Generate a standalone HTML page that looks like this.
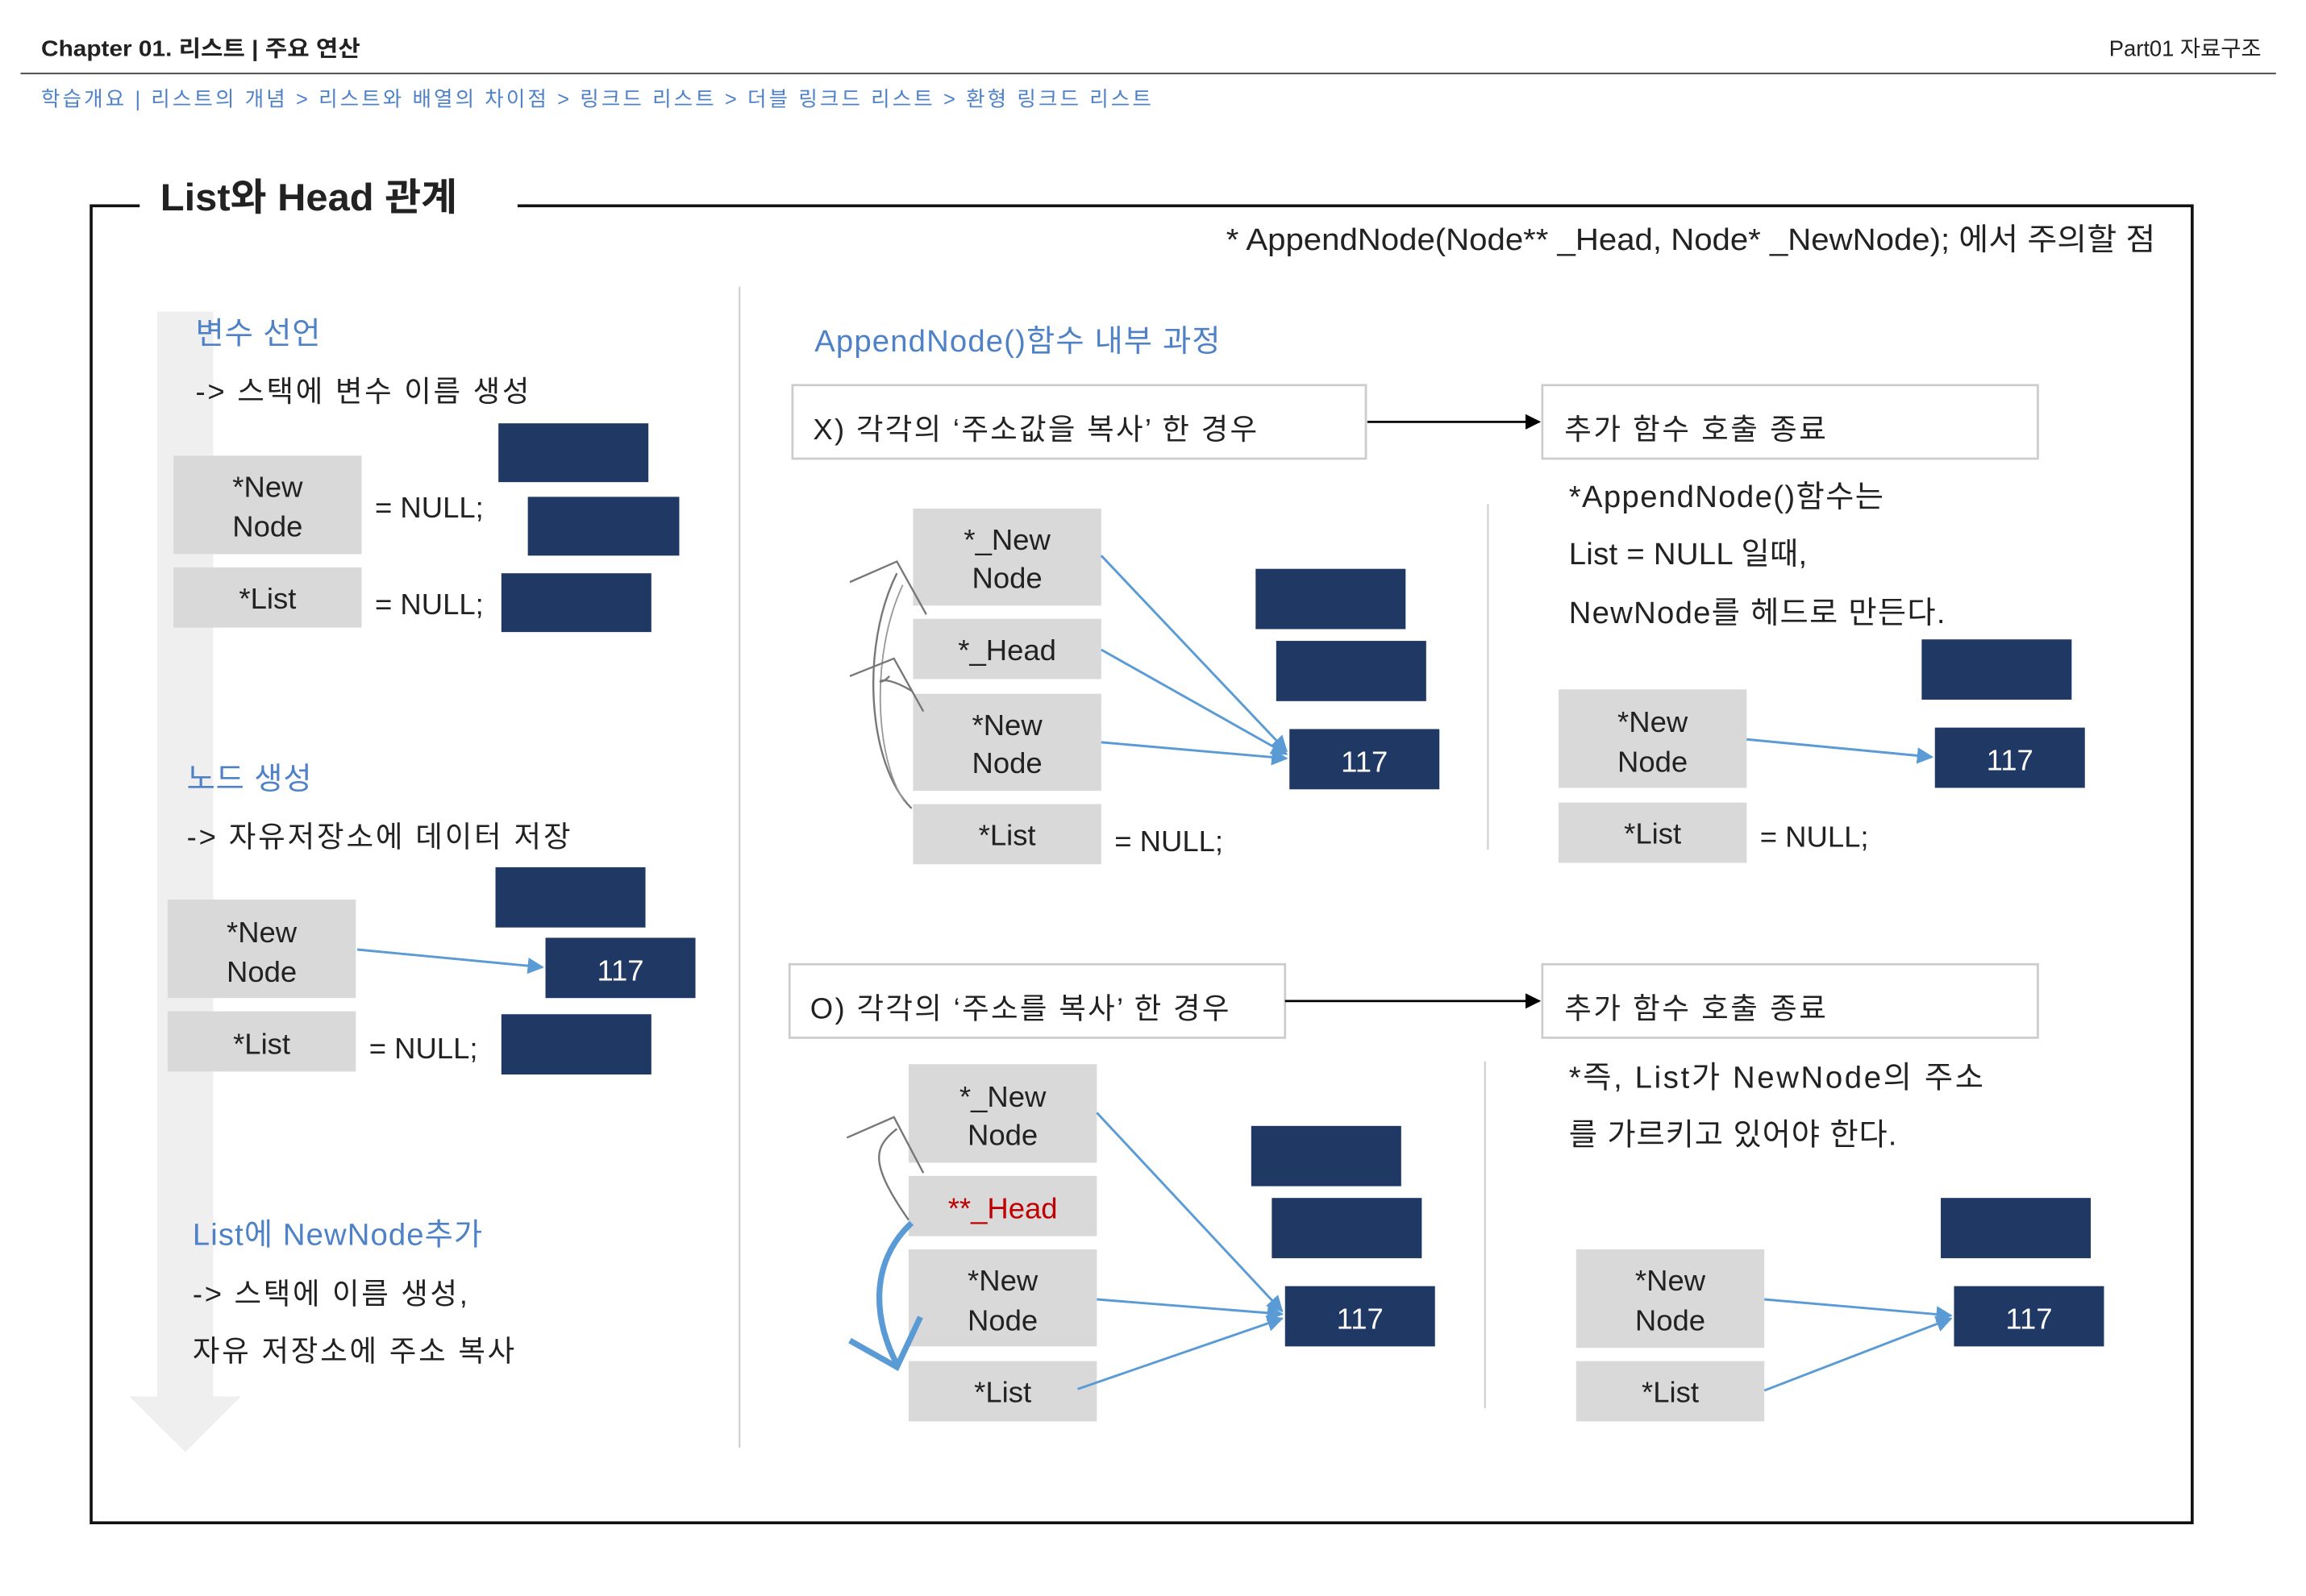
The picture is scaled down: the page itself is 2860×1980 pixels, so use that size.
<!DOCTYPE html>
<html><head><meta charset="utf-8">
<style>
html,body{margin:0;padding:0;background:#fff;}
svg{display:block;}
text{font-family:"Liberation Sans","Noto Sans CJK KR",sans-serif;fill:#222;}
text.b{fill:#4f81c7;}
.g{fill:#d9d9d9;}
.n{fill:#1f3864;}
text.w{fill:#fff;}
.bl{stroke:#5b9bd5;stroke-width:1.6;fill:none;}
</style></head><body>
<svg width="2860" height="1980" viewBox="0 0 1568.4 1085.8" xmlns="http://www.w3.org/2000/svg">
<defs>
<marker id="ab" viewBox="0 0 10 10" refX="9" refY="5" markerWidth="7" markerHeight="7" orient="auto"><path d="M0,0L10,5L0,10z" fill="#5b9bd5"/></marker>
<marker id="ak" viewBox="0 0 10 10" refX="9" refY="5" markerWidth="7" markerHeight="7" orient="auto"><path d="M0,0L10,5L0,10z" fill="#000"/></marker>
</defs>
<text x="28" y="38" font-size="15" font-weight="bold" textLength="217" lengthAdjust="spacingAndGlyphs">Chapter 01. 리스트 | 주요 연산</text>
<text x="1538" y="38" font-size="15" text-anchor="end">Part01 자료구조</text>
<line x1="14" y1="50" x2="1548" y2="50" stroke="#444" stroke-width="1"/>
<text x="28" y="72" font-size="14" class="b" textLength="755" lengthAdjust="spacing">학습개요 |  리스트의 개념 &gt; 리스트와 배열의 차이점 &gt; 링크드  리스트 &gt; 더블 링크드 리스트 &gt; 환형 링크드 리스트</text>
<path d="M95,140 H62 V1036 H1491 V140 H352" fill="none" stroke="#111" stroke-width="2"/>
<text x="109" y="143" font-size="26" font-weight="bold" fill="#111" textLength="202" lengthAdjust="spacingAndGlyphs">List와 Head 관계</text>
<text x="834" y="170" font-size="21" textLength="632" lengthAdjust="spacingAndGlyphs">* AppendNode(Node** _Head, Node* _NewNode); 에서 주의할 점</text>
<rect x="107" y="212" width="38" height="740" fill="#efefef"/>
<polygon points="88,950 164,950 126,988" fill="#efefef"/>
<line x1="503" y1="195" x2="503" y2="985" stroke="#d0d0d0" stroke-width="1.2"/>
<text x="133" y="234" font-size="21" class="b" textLength="85">변수 선언</text>
<text x="133" y="273" font-size="20" textLength="227">-&gt; 스택에 변수 이름 생성</text>
<rect x="118" y="310" width="128" height="67" class="g"/>
<text x="182" y="338" font-size="20" text-anchor="middle">*New</text>
<text x="182" y="365" font-size="20" text-anchor="middle">Node</text>
<rect x="118" y="386" width="128" height="41" class="g"/>
<text x="182" y="414" font-size="20" text-anchor="middle">*List</text>
<text x="255" y="352" font-size="20">= NULL;</text>
<text x="255" y="418" font-size="20">= NULL;</text>
<rect x="339" y="288" width="102" height="40" class="n"/>
<rect x="359" y="338" width="103" height="40" class="n"/>
<rect x="341" y="390" width="102" height="40" class="n"/>
<text x="127" y="537" font-size="21" class="b" textLength="85">노드 생성</text>
<text x="127" y="576" font-size="20" textLength="261">-&gt; 자유저장소에 데이터 저장</text>
<rect x="114" y="612" width="128" height="67" class="g"/>
<text x="178" y="641" font-size="20" text-anchor="middle">*New</text>
<text x="178" y="668" font-size="20" text-anchor="middle">Node</text>
<rect x="114" y="688" width="128" height="41" class="g"/>
<text x="178" y="717" font-size="20" text-anchor="middle">*List</text>
<text x="251" y="720" font-size="20">= NULL;</text>
<rect x="337" y="590" width="102" height="41" class="n"/>
<rect x="371" y="638" width="102" height="41" class="n"/>
<text x="422" y="667" font-size="20" text-anchor="middle" class="w">117</text>
<rect x="341" y="690" width="102" height="41" class="n"/>
<line x1="243" y1="646" x2="369" y2="658" class="bl" marker-end="url(#ab)"/>
<text x="131" y="847" font-size="21" class="b" textLength="197">List에 NewNode추가</text>
<text x="131" y="887" font-size="20" textLength="187">-&gt; 스택에 이름 생성,</text>
<text x="131" y="926" font-size="20" textLength="219">자유 저장소에 주소 복사</text>
<text x="554" y="239" font-size="21" class="b" textLength="276">AppendNode()함수 내부 과정</text>
<rect x="539" y="262" width="390" height="50" fill="none" stroke="#ccc" stroke-width="1.5"/>
<text x="553" y="299" font-size="20" textLength="302">X) 각각의 ‘주소값을 복사’ 한 경우</text>
<line x1="930" y1="287" x2="1047" y2="287" stroke="#000" stroke-width="1.5" marker-end="url(#ak)"/>
<rect x="1049" y="262" width="337" height="50" fill="none" stroke="#ccc" stroke-width="1.5"/>
<text x="1064" y="299" font-size="20" textLength="178">추가 함수 호출 종료</text>
<rect x="621" y="346" width="128" height="66" class="g"/>
<text x="685" y="374" font-size="20" text-anchor="middle">*_New</text>
<text x="685" y="400" font-size="20" text-anchor="middle">Node</text>
<rect x="621" y="421" width="128" height="41" class="g"/>
<text x="685" y="449" font-size="20" text-anchor="middle">*_Head</text>
<rect x="621" y="472" width="128" height="66" class="g"/>
<text x="685" y="500" font-size="20" text-anchor="middle">*New</text>
<text x="685" y="526" font-size="20" text-anchor="middle">Node</text>
<rect x="621" y="547" width="128" height="41" class="g"/>
<text x="685" y="575" font-size="20" text-anchor="middle">*List</text>
<text x="758" y="579" font-size="20">= NULL;</text>
<rect x="854" y="387" width="102" height="41" class="n"/>
<rect x="868" y="436" width="102" height="41" class="n"/>
<rect x="877" y="496" width="102" height="41" class="n"/>
<text x="928" y="525" font-size="20" text-anchor="middle" class="w">117</text>
<line x1="749" y1="378" x2="875" y2="511" class="bl" marker-end="url(#ab)"/>
<line x1="749" y1="442" x2="875" y2="513" class="bl" marker-end="url(#ab)"/>
<line x1="749" y1="505" x2="875" y2="516" class="bl" marker-end="url(#ab)"/>
<path d="M620,550 C590,520 585,440 610,390 M578,396 L610,382 L630,418" fill="none" stroke="#777" stroke-width="1.3"/>
<path d="M615,545 C595,515 592,445 614,398" fill="none" stroke="#999" stroke-width="1"/>
<path d="M620,470 C595,455 595,470 605,460 M578,460 L608,448 L628,484" fill="none" stroke="#777" stroke-width="1.3"/>
<line x1="1012" y1="343" x2="1012" y2="578" stroke="#d0d0d0" stroke-width="1.2"/>
<text x="1067" y="345" font-size="21" textLength="214">*AppendNode()함수는</text>
<text x="1067" y="384" font-size="21" textLength="162">List = NULL 일때,</text>
<text x="1067" y="424" font-size="21" textLength="256">NewNode를 헤드로 만든다.</text>
<rect x="1307" y="435" width="102" height="41" class="n"/>
<rect x="1316" y="495" width="102" height="41" class="n"/>
<text x="1367" y="524" font-size="20" text-anchor="middle" class="w">117</text>
<rect x="1060" y="469" width="128" height="67" class="g"/>
<text x="1124" y="498" font-size="20" text-anchor="middle">*New</text>
<text x="1124" y="525" font-size="20" text-anchor="middle">Node</text>
<rect x="1060" y="546" width="128" height="41" class="g"/>
<text x="1124" y="574" font-size="20" text-anchor="middle">*List</text>
<text x="1197" y="576" font-size="20">= NULL;</text>
<line x1="1188" y1="503" x2="1314" y2="515" class="bl" marker-end="url(#ab)"/>
<rect x="537" y="656" width="337" height="50" fill="none" stroke="#ccc" stroke-width="1.5"/>
<text x="551" y="693" font-size="20" textLength="285">O) 각각의 ‘주소를 복사’ 한 경우</text>
<line x1="874" y1="681" x2="1047" y2="681" stroke="#000" stroke-width="1.5" marker-end="url(#ak)"/>
<rect x="1049" y="656" width="337" height="50" fill="none" stroke="#ccc" stroke-width="1.5"/>
<text x="1064" y="693" font-size="20" textLength="178">추가 함수 호출 종료</text>
<rect x="618" y="724" width="128" height="67" class="g"/>
<text x="682" y="753" font-size="20" text-anchor="middle">*_New</text>
<text x="682" y="779" font-size="20" text-anchor="middle">Node</text>
<rect x="618" y="800" width="128" height="41" class="g"/>
<text x="682" y="829" font-size="20" text-anchor="middle" style="fill:#c00000">**_Head</text>
<rect x="618" y="850" width="128" height="66" class="g"/>
<text x="682" y="878" font-size="20" text-anchor="middle">*New</text>
<text x="682" y="905" font-size="20" text-anchor="middle">Node</text>
<rect x="618" y="926" width="128" height="41" class="g"/>
<text x="682" y="954" font-size="20" text-anchor="middle">*List</text>
<rect x="851" y="766" width="102" height="41" class="n"/>
<rect x="865" y="815" width="102" height="41" class="n"/>
<rect x="874" y="875" width="102" height="41" class="n"/>
<text x="925" y="904" font-size="20" text-anchor="middle" class="w">117</text>
<line x1="746" y1="757" x2="872" y2="892" class="bl" marker-end="url(#ab)"/>
<line x1="746" y1="884" x2="872" y2="894" class="bl" marker-end="url(#ab)"/>
<line x1="733" y1="945" x2="872" y2="897" class="bl" marker-end="url(#ab)"/>
<path d="M618,830 C590,790 595,780 610,768 M576,774 L608,760 L628,798" fill="none" stroke="#777" stroke-width="1.3"/>
<path d="M620,832 C590,860 595,900 610,928" fill="none" stroke="#5b9bd5" stroke-width="4"/>
<path d="M578,912 L610,930 L626,896" fill="none" stroke="#5b9bd5" stroke-width="4"/>
<line x1="1010" y1="722" x2="1010" y2="958" stroke="#d0d0d0" stroke-width="1.2"/>
<text x="1067" y="740" font-size="21" textLength="282">*즉,  List가  NewNode의  주소</text>
<text x="1067" y="779" font-size="21" textLength="223">를 가르키고 있어야 한다.</text>
<rect x="1320" y="815" width="102" height="41" class="n"/>
<rect x="1329" y="875" width="102" height="41" class="n"/>
<text x="1380" y="904" font-size="20" text-anchor="middle" class="w">117</text>
<rect x="1072" y="850" width="128" height="67" class="g"/>
<text x="1136" y="878" font-size="20" text-anchor="middle">*New</text>
<text x="1136" y="905" font-size="20" text-anchor="middle">Node</text>
<rect x="1072" y="926" width="128" height="41" class="g"/>
<text x="1136" y="954" font-size="20" text-anchor="middle">*List</text>
<line x1="1200" y1="884" x2="1327" y2="895" class="bl" marker-end="url(#ab)"/>
<line x1="1200" y1="946" x2="1327" y2="897" class="bl" marker-end="url(#ab)"/>
</svg>
</body></html>
